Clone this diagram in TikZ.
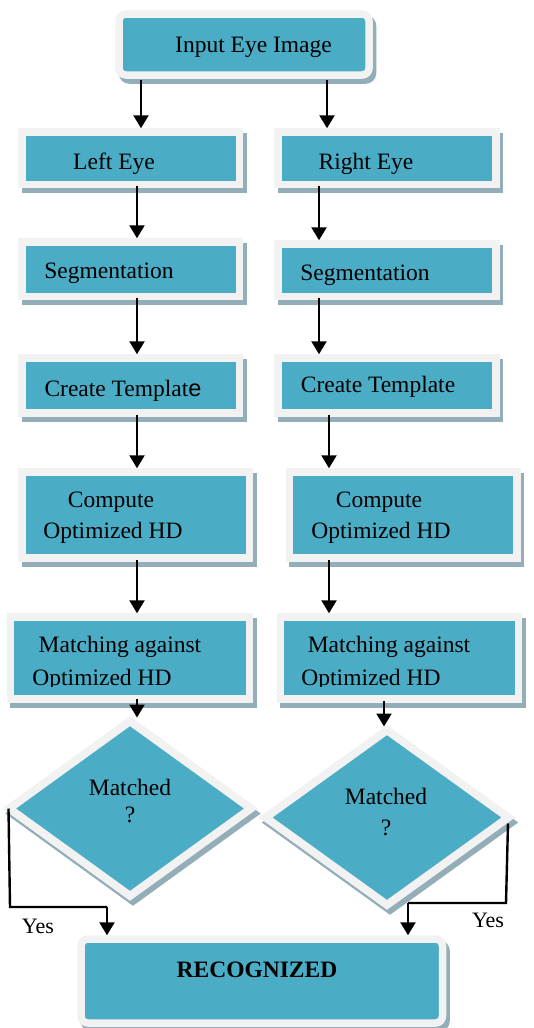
\documentclass[tikz,border=0pt]{standalone}
\usepackage{fontspec}
\setmainfont{Liberation Serif}
\newfontfamily\tms{Liberation Serif}
\newfontfamily\odde{Liberation Sans}
\usetikzlibrary{arrows.meta,shapes.geometric}
\definecolor{framec}{HTML}{F2F2F2}
\definecolor{bluec}{HTML}{4BACC6}
\definecolor{shadowc}{HTML}{93AEB8}
\tikzset{
  box/.style={shape=rectangle, draw=framec, fill=bluec, line width=7.5pt, inner sep=0pt,
    preaction={draw=shadowc, fill=shadowc, line width=7.5pt, transform canvas={xshift=3.5pt,yshift=-5pt}}},
  rbox/.style={box, rounded corners=7pt},
  dia/.style={shape=diamond, draw=framec, fill=bluec, line width=8pt, inner sep=0pt,
    preaction={draw=shadowc, fill=shadowc, line width=8pt, transform canvas={xshift=3pt,yshift=-5pt}}},
  txt/.style={anchor=base, inner sep=0pt, font=\tms\fontsize{23.5}{28}\selectfont},
  ytxt/.style={anchor=base, inner sep=0pt, font=\tms\fontsize{22}{26}\selectfont},
  arr/.style={line width=2.4pt, -{Triangle[width=15pt,length=13pt]}},
  lnk/.style={line width=2.4pt},
}
\begin{document}
\begin{tikzpicture}[x=1pt,y=-1pt]
\useasboundingbox[fill=white] (0,0) rectangle (534,1028);
% boxes
\node[rbox, minimum width=250pt, minimum height=61pt] (input) at (244,44.5) {};
\node[box, minimum width=217.5pt, minimum height=52.5pt] (le) at (130.75,158.25) {};
\node[box, minimum width=218pt, minimum height=52.5pt] (re) at (387,158.25) {};
\node[box, minimum width=217.5pt, minimum height=54.5pt] (segL) at (130.75,269.25) {};
\node[box, minimum width=218pt, minimum height=52.5pt] (segR) at (387,270.25) {};
\node[box, minimum width=217.5pt, minimum height=55pt] (ctL) at (130.75,385.5) {};
\node[box, minimum width=218pt, minimum height=55pt] (ctR) at (387,385.5) {};
\node[box, minimum width=227.5pt, minimum height=86pt] (compL) at (135.75,515) {};
\node[box, minimum width=227.5pt, minimum height=86pt] (compR) at (403.25,515) {};
\node[box, minimum width=239pt, minimum height=82pt] (matchL) at (130,658) {};
\node[box, minimum width=238pt, minimum height=82pt] (matchR) at (399.5,658) {};
\node[dia, minimum width=245pt, minimum height=178pt] (dL) at (130,808.5) {};
\node[dia, minimum width=246pt, minimum height=178pt] (dR) at (387,817.5) {};
\node[rbox, minimum width=361.5pt, minimum height=84pt] (rec) at (261.75,981) {};
% texts
\node[txt] (tIn) at (253.5,52) {Input Eye Image};
\node[txt] (tLE) at (114,169) {Left Eye};
\node[txt] (tRE) at (366,169) {Right Eye};
\node[txt] (tSL) at (109,278) {Segmentation};
\node[txt] (tSR) at (365,280) {Segmentation};
\node[txt] (tCL) at (123,396) {Create Templat{\odde e}};
\node[txt] (tCR) at (378,392) {Create Template};
\node[txt] (tPL1) at (111,507) {Compute};
\node[txt] (tPL2) at (113,538) {Optimized HD};
\node[txt] (tPR1) at (379,507) {Compute};
\node[txt] (tPR2) at (381,538) {Optimized HD};
\node[txt] (tML1) at (120,652) {Matching against};
\node[txt] (tMR1) at (389,652) {Matching against};
\begin{scope}
\clip (0,600) rectangle (534,686);
\node[txt] (tML2) at (102,685) {Optimized HD};
\node[txt] (tMR2) at (371,685) {Optimized HD};
\end{scope}
\node[txt] (tDL1) at (130,795) {Matched};
\node[txt] (tDL2) at (130,822) {?};
\node[txt] (tDR1) at (386,804) {Matched};
\node[txt] (tDR2) at (386,835) {?};
\node[txt, font=\tms\fontsize{23.5}{28}\selectfont\bfseries] (tRec) at (257,977) {RECOGNIZED};
\node[ytxt] (yL) at (38,933) {Yes};
\node[ytxt] (yR) at (488,927) {Yes};
% connectors
\draw[arr] ([yshift=-1pt]input.south -| 141,0) -- (le.north -| 141,0);
\draw[arr] ([yshift=-1pt]input.south -| 327,0) -- (re.north -| 327,0);
\draw[arr] ([yshift=2pt]le.south -| 137,0) -- (segL.north -| 137,0);
\draw[arr] ([yshift=2pt]re.south -| 319,0) -- (segR.north -| 319,0);
\draw[arr] ([yshift=2pt]segL.south -| 137,0) -- (ctL.north -| 137,0);
\draw[arr] ([yshift=2pt]segR.south -| 319,0) -- (ctR.north -| 319,0);
\draw[arr] ([yshift=2pt]ctL.south -| 137,0) -- (compL.north -| 137,0);
\draw[arr] ([yshift=2pt]ctR.south -| 329,0) -- (compR.north -| 329,0);
\draw[arr] ([yshift=2pt]compL.south -| 137,0) -- (matchL.north -| 137,0);
\draw[arr] ([yshift=2pt]compR.south -| 329,0) -- (matchR.north -| 329,0);
\draw[arr] ([yshift=4pt]matchL.south -| 137,0) -- ([yshift=-2pt]dL.north -| 137,0);
\draw[arr] ([yshift=2pt]matchR.south -| 384,0) -- ([yshift=-2pt]dR.north -| 384,0);
\coordinate (cL) at (10,907);
\coordinate (cR) at (506,903);
\draw[lnk] ([xshift=5pt]dL.west) -- (cL) -- (cL -| 107,0);
\draw[arr] (cL -| 107,0) -- (rec.north -| 107,0);
\draw[lnk] ([xshift=-6pt,yshift=-6pt]dR.east) -- (cR) -- (cR -| 408,0);
\draw[arr] (cR -| 408,0) -- (rec.north -| 408,0);
\end{tikzpicture}
\end{document}
